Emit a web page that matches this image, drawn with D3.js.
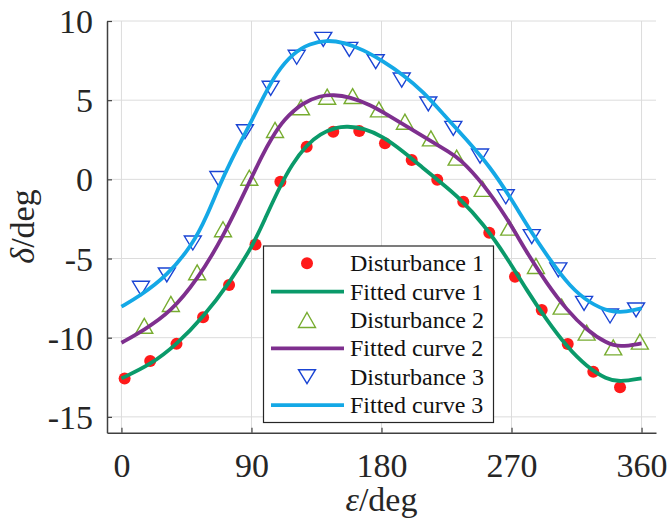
<!DOCTYPE html>
<html>
<head>
<meta charset="utf-8">
<script src="https://cdn.jsdelivr.net/npm/d3@7"></script>
<style>
  html, body { margin: 0; padding: 0; background: #ffffff; }
  svg { display: block; }
</style>
</head>
<body>
<svg id="chart" width="669" height="525"></svg>
<script>
// Measured samples: rotor angle deviation delta (deg) against phase epsilon (deg)
const dist1Eps = [2.2, 19.9, 38.1, 56.5, 74.5, 92.8, 110.0, 128.2, 146.6, 164.6, 182.4, 200.9, 218.6, 236.6, 254.6, 272.4, 290.9, 308.9, 326.6, 345.1];
const dist1Val = [-12.58, -11.47, -10.39, -8.71, -6.67, -4.11, -0.15, 2.06, 3.01, 3.05, 2.28, 1.22, -0.02, -1.41, -3.37, -6.15, -8.25, -10.40, -12.15, -13.13];

const dist2Eps = [15.8, 34.2, 52.4, 70.3, 88.5, 106.3, 124.3, 142.4, 160.0, 178.2, 196.2, 214.2, 232.0, 250.0, 268.4, 286.9, 304.7, 322.0, 340.4, 358.8];
const dist2Val = [-9.25, -7.87, -5.87, -3.15, 0.10, 3.12, 4.55, 5.22, 5.26, 4.42, 3.64, 2.59, 1.37, -0.60, -3.05, -5.47, -8.04, -9.68, -10.61, -10.25];

const dist3Eps = [13.5, 31.4, 49.4, 67.1, 85.5, 103.3, 121.3, 139.7, 157.7, 176.0, 194.0, 212.4, 229.7, 248.2, 266.0, 284.0, 302.4, 320.2, 338.2, 356.2];
const dist3Val = [-6.88, -6.04, -4.02, 0.05, 3.01, 5.75, 7.71, 8.84, 8.21, 7.43, 6.27, 4.76, 3.22, 1.47, -1.10, -3.62, -5.72, -7.83, -8.63, -8.25];

// Fitted curves, sampled along epsilon
const fit1Eps = [0, 19.9, 38.4, 56.9, 74.2, 91.5, 100, 110, 118, 128, 137.4, 148.9, 156, 167.4, 181.2, 195, 208.9, 220.4, 234.3, 250.4, 266.6, 280.5, 294.3, 308.2, 322, 335.9, 345, 360];
const fit1Val = [-12.57, -11.72, -10.42, -8.67, -6.62, -4.1, -2.35, -0.4, 0.95, 2.15, 2.88, 3.29, 3.35, 3.24, 2.7, 1.76, 0.7, -0.15, -1.20, -2.8, -4.9, -7.0, -8.88, -10.57, -11.83, -12.63, -12.8, -12.57];

const fit2Eps = [0, 15.8, 34.3, 52.3, 70.3, 88.7, 97.3, 104, 112, 125.8, 137.4, 146.6, 158.2, 172, 185.9, 199.7, 213.5, 227, 234.3, 250.4, 266.6, 280.5, 294.3, 308.2, 322, 335.9, 345, 360];
const fit2Val = [-10.32, -9.51, -8.36, -6.36, -3.66, -0.15, 1.5, 2.6, 3.75, 4.87, 5.27, 5.35, 5.2, 4.72, 3.98, 3.22, 2.45, 1.72, 1.30, -0.27, -2.4, -4.62, -6.56, -8.25, -9.52, -10.36, -10.6, -10.36];

const fit3Eps = [0, 13, 31.5, 49.5, 59.2, 67.3, 75.3, 89, 98.2, 107.4, 118.9, 130.5, 142, 153.5, 167.4, 181.2, 195.1, 208.9, 222.8, 239, 255.1, 268.9, 282.7, 296.6, 310.4, 324.3, 338.1, 349.7, 360];
const fit3Val = [-8.04, -7.35, -6.1, -4.1, -2.3, -0.5, 1.1, 3.5, 5.2, 6.75, 7.98, 8.58, 8.79, 8.66, 8.19, 7.45, 6.6, 5.54, 4.12, 2.49, 0.80, -1.10, -3.20, -5.09, -6.78, -7.83, -8.38, -8.38, -8.14];

const xTicks = [0, 90, 180, 270, 360];
const yTicks = [-15, -10, -5, 0, 5, 10];
const legendLabels = ["Disturbance 1", "Fitted curve 1", "Disturbance 2", "Fitted curve 2", "Disturbance 3", "Fitted curve 3"];

const FONT = "Liberation Serif";
const colors = {
  dot: "#ff1a1a",
  tri: "#77ac30",
  itri: "#1a44d4",
  fit1: "#0a9a6a",
  fit2: "#7e2f8e",
  fit3: "#14a8e6",
  axis: "#404040",
  grid: "#dcdcdc",
  text: "#262626"
};

const svg = d3.select("#chart");
svg.append("rect").attr("width", 669).attr("height", 525).attr("fill", "#ffffff");

const x = d3.scaleLinear().domain([-10, 370]).range([107, 656]);
const y = d3.scaleLinear().domain([-16, 10]).range([432.7, 21]);

// Grid
const grid = svg.append("g");
grid.selectAll("line.gx").data(xTicks).join("line")
  .attr("x1", d => x(d)).attr("x2", d => x(d))
  .attr("y1", y(10)).attr("y2", y(-16))
  .attr("stroke", colors.grid).attr("stroke-width", 1);
grid.selectAll("line.gy").data(yTicks).join("line")
  .attr("x1", x(-10)).attr("x2", x(370))
  .attr("y1", d => y(d)).attr("y2", d => y(d))
  .attr("stroke", colors.grid).attr("stroke-width", 1);

// Axes (ticks pointing inward, plain hyphen for negatives)
const fmt = d => String(d);
const xAxis = svg.append("g").attr("transform", `translate(0,${y(-16)})`)
  .call(d3.axisBottom(x).tickValues(xTicks).tickFormat(fmt).tickSizeInner(-5).tickSizeOuter(0));
const yAxis = svg.append("g").attr("transform", `translate(${x(-10)},0)`)
  .call(d3.axisLeft(y).tickValues(yTicks).tickFormat(fmt).tickSizeInner(-5).tickSizeOuter(0));

[xAxis, yAxis].forEach(g => {
  g.attr("font-family", FONT).attr("font-size", 34);
  g.select(".domain").attr("stroke", colors.axis).attr("stroke-width", 1.5);
  g.selectAll(".tick line").attr("stroke", colors.axis).attr("stroke-width", 1.2);
  g.selectAll(".tick text").attr("fill", colors.text).attr("font-family", FONT).attr("font-size", 34);
});
xAxis.selectAll(".tick text").attr("dy", null).attr("y", 44.5);
yAxis.selectAll(".tick text").attr("dy", null).attr("x", -14).attr("y", 11.5);

// Axis titles
const xt = svg.append("text")
  .attr("x", 381.5).attr("y", 511)
  .attr("text-anchor", "middle")
  .attr("fill", colors.text)
  .attr("font-family", FONT).attr("font-size", 34);
xt.append("tspan").attr("font-style", "italic").text("ε");
xt.append("tspan").text("/deg");

const yt = svg.append("text")
  .attr("transform", "translate(34,226.5) rotate(-90)")
  .attr("text-anchor", "middle")
  .attr("fill", colors.text)
  .attr("font-family", FONT).attr("font-size", 34);
yt.append("tspan").attr("font-style", "italic").text("δ");
yt.append("tspan").text("/deg");

// Marker shapes
function triUp(w, h) { return `M0,${-h / 2}L${w / 2},${h / 2}L${-w / 2},${h / 2}Z`; }
function triDown(w, h) { return `M0,${h / 2}L${w / 2},${-h / 2}L${-w / 2},${-h / 2}Z`; }

const line = d3.line().x(d => x(d[0])).y(d => y(d[1])).curve(d3.curveBasis);
const plot = svg.append("g");

function drawDots(eps, val) {
  plot.append("g").selectAll("circle").data(d3.zip(eps, val)).join("circle")
    .attr("cx", d => x(d[0])).attr("cy", d => y(d[1])).attr("r", 6)
    .attr("fill", colors.dot);
}
function drawTris(eps, val, path, color) {
  plot.append("g").selectAll("path").data(d3.zip(eps, val)).join("path")
    .attr("transform", d => `translate(${x(d[0])},${y(d[1])})`)
    .attr("d", path)
    .attr("fill", "none").attr("stroke", color).attr("stroke-width", 1.4);
}
function drawFit(eps, val, color) {
  plot.append("path").datum(d3.zip(eps, val))
    .attr("d", line).attr("fill", "none")
    .attr("stroke", color).attr("stroke-width", 3.8)
    .attr("stroke-linejoin", "round");
}

drawDots(dist1Eps, dist1Val);
drawFit(fit1Eps, fit1Val, colors.fit1);
drawTris(dist2Eps, dist2Val, triUp(17, 15), colors.tri);
drawFit(fit2Eps, fit2Val, colors.fit2);
drawTris(dist3Eps, dist3Val, triDown(17, 14), colors.itri);
drawFit(fit3Eps, fit3Val, colors.fit3);

// Legend
const lg = svg.append("g");
lg.append("rect")
  .attr("x", 263.5).attr("y", 246).attr("width", 230).attr("height", 176.5)
  .attr("fill", "#ffffff").attr("stroke", colors.text).attr("stroke-width", 1.2);

const rowY = i => 263.3 + i * 28.35;
const kinds = ["dot", "fit1", "tri", "fit2", "itri", "fit3"];
kinds.forEach((k, i) => {
  const cy = rowY(i);
  if (k === "dot") {
    lg.append("circle").attr("cx", 307).attr("cy", cy).attr("r", 6).attr("fill", colors.dot);
  } else if (k === "tri") {
    lg.append("path").attr("transform", `translate(307,${cy})`).attr("d", triUp(17, 15))
      .attr("fill", "none").attr("stroke", colors.tri).attr("stroke-width", 1.4);
  } else if (k === "itri") {
    lg.append("path").attr("transform", `translate(307,${cy})`).attr("d", triDown(17, 14))
      .attr("fill", "none").attr("stroke", colors.itri).attr("stroke-width", 1.4);
  } else {
    lg.append("line").attr("x1", 271).attr("x2", 344).attr("y1", cy).attr("y2", cy)
      .attr("stroke", colors[k]).attr("stroke-width", 3.8);
  }
  lg.append("text")
    .attr("x", 350).attr("y", cy + 8)
    .attr("fill", "#111111")
    .attr("font-family", FONT).attr("font-size", 24)
    .text(legendLabels[i]);
});
</script>
</body>
</html>
